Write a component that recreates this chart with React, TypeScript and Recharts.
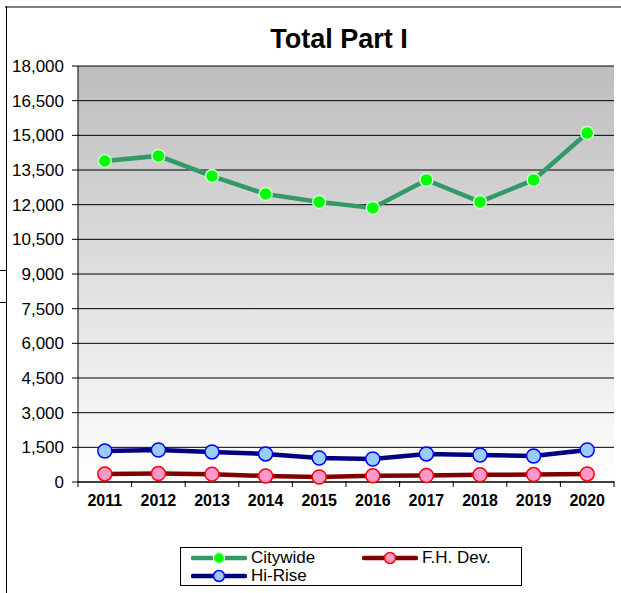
import { CartesianGrid, Line, LineChart, XAxis, YAxis } from 'recharts';

const years = ['2011', '2012', '2013', '2014', '2015', '2016', '2017', '2018', '2019', '2020'];
const citywide = [13890, 14110, 13240, 12460, 12120, 11860, 13070, 12120, 13070, 15100];
const fhDev = [350, 365, 340, 260, 215, 270, 280, 310, 320, 350];
const hiRise = [1340, 1385, 1300, 1215, 1040, 995, 1215, 1170, 1125, 1385];
const yTicks = [0, 1500, 3000, 4500, 6000, 7500, 9000, 10500, 12000, 13500, 15000, 16500, 18000];

const data = years.map((year, i) => ({
  year,
  citywide: citywide[i],
  fhDev: fhDev[i],
  hiRise: hiRise[i],
}));

const font = 'Arial, "Liberation Sans", sans-serif';
const half = 26.8;

function YearTick(props: any) {
  const { x, y, payload, index } = props;
  return (
    <g>
      <line x1={x - half} y1={y - 9} x2={x - half} y2={y - 3} stroke="#000" />
      {index === years.length - 1 && (
        <line x1={x + half} y1={y - 9} x2={x + half} y2={y - 3} stroke="#000" />
      )}
      <text x={x} y={y + 16} textAnchor="middle" fontFamily={font} fontSize={16} fontWeight="bold" fill="#000">
        {payload.value}
      </text>
    </g>
  );
}

function Swatch({ stroke, fill, dotStroke }: { stroke: string; fill: string; dotStroke: string }) {
  return (
    <svg width={56} height={14} style={{ display: 'block', marginRight: 4 }}>
      <line x1={2} y1={7} x2={54} y2={7} stroke={stroke} strokeWidth={4.5} strokeLinecap="round" />
      <circle cx={28} cy={7} r={5.5} fill={fill} stroke={dotStroke} strokeWidth={1.5} />
    </svg>
  );
}

function LegendBox() {
  const item = { display: 'flex', alignItems: 'center', height: 18 } as const;
  return (
    <div
      style={{
        position: 'absolute',
        left: 180,
        top: 547,
        border: '1px solid #000',
        background: '#fff',
        width: 342,
        height: 39,
        boxSizing: 'border-box',
        paddingLeft: 10,
        fontFamily: font,
        fontSize: 17,
        color: '#000',
        display: 'grid',
        gridTemplateColumns: '171px 150px',
        alignContent: 'center',
        lineHeight: '17px',
      }}
    >
      <div style={item}>
        <Swatch stroke="#339966" fill="#00ff00" dotStroke="#ccffcc" />
        Citywide
      </div>
      <div style={item}>
        <Swatch stroke="#800000" fill="#ff99cc" dotStroke="#ff0000" />
        F.H. Dev.
      </div>
      <div style={item}>
        <Swatch stroke="#000080" fill="#99ccff" dotStroke="#0000ff" />
        Hi-Rise
      </div>
    </div>
  );
}

export default function App() {
  return (
    <div style={{ position: 'absolute', left: 0, top: 0, width: 621, height: 593, background: '#fff', overflow: 'hidden' }}>
      <div style={{ position: 'absolute', left: 5, top: 6, width: 616, height: 2, background: '#808080' }} />
      <div style={{ position: 'absolute', left: 6, top: 6, width: 1, height: 587, background: '#000' }} />
      <div style={{ position: 'absolute', left: 0, top: 270, width: 6, height: 1, background: '#000' }} />
      <div style={{ position: 'absolute', left: 0, top: 302, width: 6, height: 1, background: '#000' }} />
      <div
        style={{
          position: 'absolute',
          left: 0,
          top: 24,
          width: 678,
          textAlign: 'center',
          fontFamily: font,
          fontSize: 27,
          fontWeight: 'bold',
          color: '#000',
        }}
      >
        Total Part I
      </div>
      <LineChart
        width={621}
        height={593}
        data={data}
        margin={{ top: 66, right: 7, bottom: 8, left: 0 }}
        style={{ position: 'absolute', left: 0, top: 0 }}
      >
        <defs>
          <linearGradient id="plotBg" x1="0" y1="0" x2="0" y2="1">
            <stop offset="0%" stopColor="#bdbdbd" />
            <stop offset="100%" stopColor="#ffffff" />
          </linearGradient>
        </defs>
        <CartesianGrid vertical={false} stroke="#000" strokeOpacity={1} fill="url(#plotBg)" fillOpacity={1} />
        <XAxis
          dataKey="year"
          height={103}
          padding={{ left: half, right: half }}
          axisLine={{ stroke: '#000' }}
          tickLine={false}
          interval={0}
          tick={<YearTick />}
        />
        <YAxis
          width={78}
          domain={[0, 18000]}
          ticks={yTicks}
          interval={0}
          tickFormatter={(v: number) => v.toLocaleString('en-US')}
          axisLine={{ stroke: '#000' }}
          tickLine={{ stroke: '#000' }}
          tickSize={6}
          tickMargin={8}
          tick={{ fontFamily: font, fontSize: 17, fill: '#000' }}
        />
        <YAxis
          yAxisId="r"
          orientation="right"
          width={0}
          tick={false}
          tickLine={false}
          axisLine={{ stroke: '#808080', strokeWidth: 3 }}
        />
        <Line
          dataKey="citywide"
          name="Citywide"
          stroke="#339966"
          strokeWidth={4.5}
          dot={{ r: 6.5, fill: '#00ff00', stroke: '#ccffcc', strokeWidth: 1.5 }}
          isAnimationActive={false}
        />
        <Line
          dataKey="fhDev"
          name="F.H. Dev."
          stroke="#800000"
          strokeWidth={4.5}
          dot={{ r: 7, fill: '#ff99cc', stroke: '#ff0000', strokeWidth: 1.5 }}
          isAnimationActive={false}
        />
        <Line
          dataKey="hiRise"
          name="Hi-Rise"
          stroke="#000080"
          strokeWidth={4.5}
          dot={{ r: 7, fill: '#99ccff', stroke: '#0000ff', strokeWidth: 1.5 }}
          isAnimationActive={false}
        />
      </LineChart>
      <LegendBox />
    </div>
  );
}
